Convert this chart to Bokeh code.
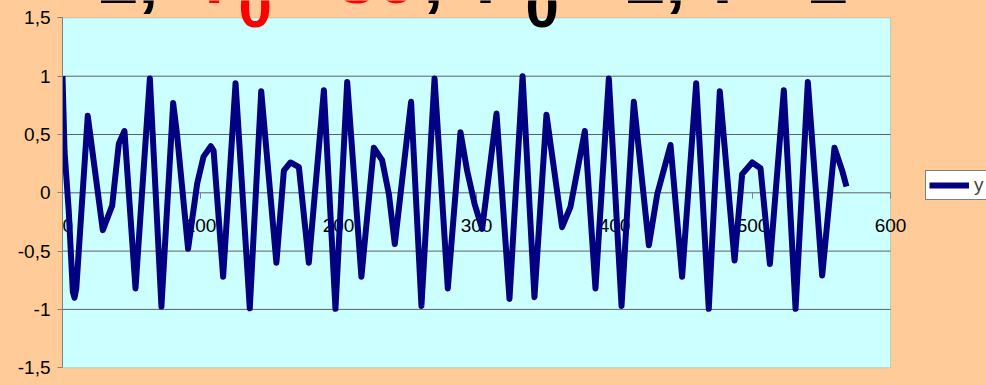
from bokeh.plotting import figure
from bokeh.models import Range1d, FixedTicker, BoxAnnotation, Legend, LegendItem, ColumnDataSource
from bokeh.core.properties import value
from bokeh.embed import file_html
from bokeh.resources import INLINE

# ---- data ----
x_vals = [0, 1.5, 4.5, 7.5, 8.7, 10, 18.3, 29.2, 36, 40.8, 44.9, 52.9, 63.3, 71.7, 80.2, 83,
          91, 97.6, 102.2, 107.5, 109.5, 116.4, 125.4, 135.7, 144, 155, 160.4, 165.2, 171.3,
          178.5, 189.4, 197.8, 206.3, 216.6, 225.6, 231.6, 236.5, 240.8, 252.6, 260.1, 269.6,
          279.2, 288.4, 293.2, 298.6, 304.1, 314.5, 323.9, 333.4, 342, 350.7, 362, 368.1,
          378.5, 386.2, 395.9, 405.1, 414, 424.9, 431, 440.6, 449, 459.2, 468.3, 476.3, 487,
          492.5, 499.8, 505.8, 512.6, 522.7, 531.2, 540.1, 550.5, 559.4, 565, 568.1]
y_vals = [1.0, 0.35, -0.15, -0.85, -0.9, -0.82, 0.66, -0.32, -0.11, 0.42, 0.53, -0.82, 0.98,
          -0.975, 0.77, 0.5, -0.48, 0.08, 0.31, 0.40, 0.36, -0.72, 0.94, -0.99, 0.87, -0.6,
          0.19, 0.26, 0.22, -0.6, 0.88, -0.995, 0.95, -0.72, 0.386, 0.28, -0.01, -0.44, 0.78,
          -0.97, 0.98, -0.82, 0.52, 0.19, -0.094, -0.31, 0.68, -0.91, 1.0, -0.895, 0.67,
          -0.295, -0.12, 0.53, -0.82, 0.98, -0.97, 0.78, -0.45, -0.01, 0.41, -0.72, 0.94,
          -0.995, 0.87, -0.58, 0.16, 0.26, 0.21, -0.61, 0.88, -0.995, 0.95, -0.71, 0.386,
          0.19, 0.054]
series_name = "y"

x_ticks = [0, 100, 200, 300, 400, 500, 600]
x_tick_labels = ["0", "100", "200", "300", "400", "500", "600"]
y_ticks = [-1.5, -1, -0.5, 0, 0.5, 1, 1.5]
y_tick_labels = ["-1,5", "-1", "-0,5", "0", "0,5", "1", "1,5"]

title_parts = ["T = 2,", "f", "0", "= 30", ",", "F", "0", "= 2,", "T", "= 2"]
title_colors = ["#000000", "#FF0000", "#FF0000", "#FF0000", "#000000",
                "#000000", "#000000", "#000000", "#000000", "#000000"]

# ---- layout (pixels of the 986x385 page) ----
W, H = 986, 385
LEFT = 62                 # pixel of x = 0
PX_PER_X = 1.38           # pixels per x unit
Y0_PX = 192.3             # pixel row of y = 0
PX_PER_Y = 116.6          # pixels per y unit

def xpx(px):
    return (px - LEFT) / PX_PER_X

def ypx(py):
    return (Y0_PX - py) / PX_PER_Y

PEACH = "#FFCC99"
PLOT_BG = "#CCFFFF"
NAVY = "#000080"
GRID = "#606060"
AXIS = "#808080"
FONT = "Liberation Sans"

p = figure(width=W, height=H, output_backend="svg", toolbar_location=None, title=None,
           x_range=Range1d(0, xpx(W)), y_range=Range1d(ypx(H), ypx(0)),
           min_border_left=LEFT, min_border_right=0, min_border_top=0, min_border_bottom=0)
p.background_fill_color = PEACH
p.border_fill_color = PEACH
p.outline_line_color = None
p.xaxis.visible = False
p.xgrid.visible = False
p.ygrid.visible = False

# plot area
p.add_layout(BoxAnnotation(left=x_ticks[0], right=x_ticks[-1], bottom=y_ticks[0], top=y_ticks[-1],
                           fill_color=PLOT_BG, fill_alpha=1.0, line_color=AXIS,
                           line_width=1, level="underlay"))

# y axis
yax = p.yaxis[0]
yax.bounds = (y_ticks[0], y_ticks[-1])
yax.ticker = FixedTicker(ticks=y_ticks)
yax.major_label_overrides = {t: l for t, l in zip(y_ticks, y_tick_labels)}
yax.minor_tick_line_color = None
yax.major_tick_in = 0
yax.major_tick_out = 5
yax.major_tick_line_color = AXIS
yax.axis_line_color = AXIS
yax.major_label_standoff = 7
yax.major_label_text_font = FONT
yax.major_label_text_font_size = "19px"
yax.major_label_text_color = "#000000"

# horizontal gridlines
grid_y = [t for t in y_ticks if abs(t) < 1.5]
p.segment(x0=[x_ticks[0]] * len(grid_y), y0=grid_y, x1=[x_ticks[-1]] * len(grid_y), y1=grid_y,
          line_color=GRID, line_width=1)

# x axis drawn at y = 0
p.segment(x0=x_ticks, y0=[0] * len(x_ticks), x1=x_ticks, y1=[-0.05] * len(x_ticks),
          line_color=AXIS, line_width=1)
p.text(x=x_ticks[:1], y=[0], text=x_tick_labels[:1], y_offset=33, x_offset=0,
       text_align="left", text_baseline="middle", text_font=value(FONT),
       text_font_size="19px", text_color="#000000")
p.text(x=x_ticks[1:], y=[0] * (len(x_ticks) - 1), text=x_tick_labels[1:], y_offset=33,
       text_align="center", text_baseline="middle", text_font=value(FONT),
       text_font_size="19px", text_color="#000000")

line = p.line(x_vals, y_vals, line_color=NAVY, line_width=6, line_join="round")

legend = Legend(items=[LegendItem(label=series_name, renderers=[line])],
                location=(925 - LEFT, H - 200), border_line_color="#000000", border_line_width=1,
                background_fill_color="#FFFFFF", background_fill_alpha=1.0,
                label_text_font=FONT, label_text_font_size="19px",
                glyph_width=40, glyph_height=16, label_height=16, label_standoff=5,
                padding=3, spacing=0, margin=0)
p.add_layout(legend, "center")

# title, mostly cut off by the top edge (baseline rows in pixels)
title_px = [(-28, 4), (202, 4), (238, 28), (274, 4), (423, 4),
            (475, 4), (525, 28), (563, 4), (700, 4), (746, 4)]
title_sizes = [72, 72, 60, 72, 72, 72, 60, 72, 72, 72]
tsrc = ColumnDataSource(dict(
    x=[xpx(a) for a, b in title_px], y=[ypx(b) for a, b in title_px],
    text=title_parts, color=title_colors,
    size=["%dpx" % s for s in title_sizes],
    yoff=[-0.375 * s for s in title_sizes]))
p.text(x="x", y="y", text="text", source=tsrc, text_color="color", text_font_size="size",
       y_offset="yoff", text_font=value(FONT), text_font_style="bold", text_align="left",
       text_baseline="alphabetic")

html = file_html(p, INLINE)
html = html.replace("</head>", "<style>html,body{margin:0;padding:0;background:#FFCC99;}</style></head>", 1)
open("out.html", "w").write(html)
